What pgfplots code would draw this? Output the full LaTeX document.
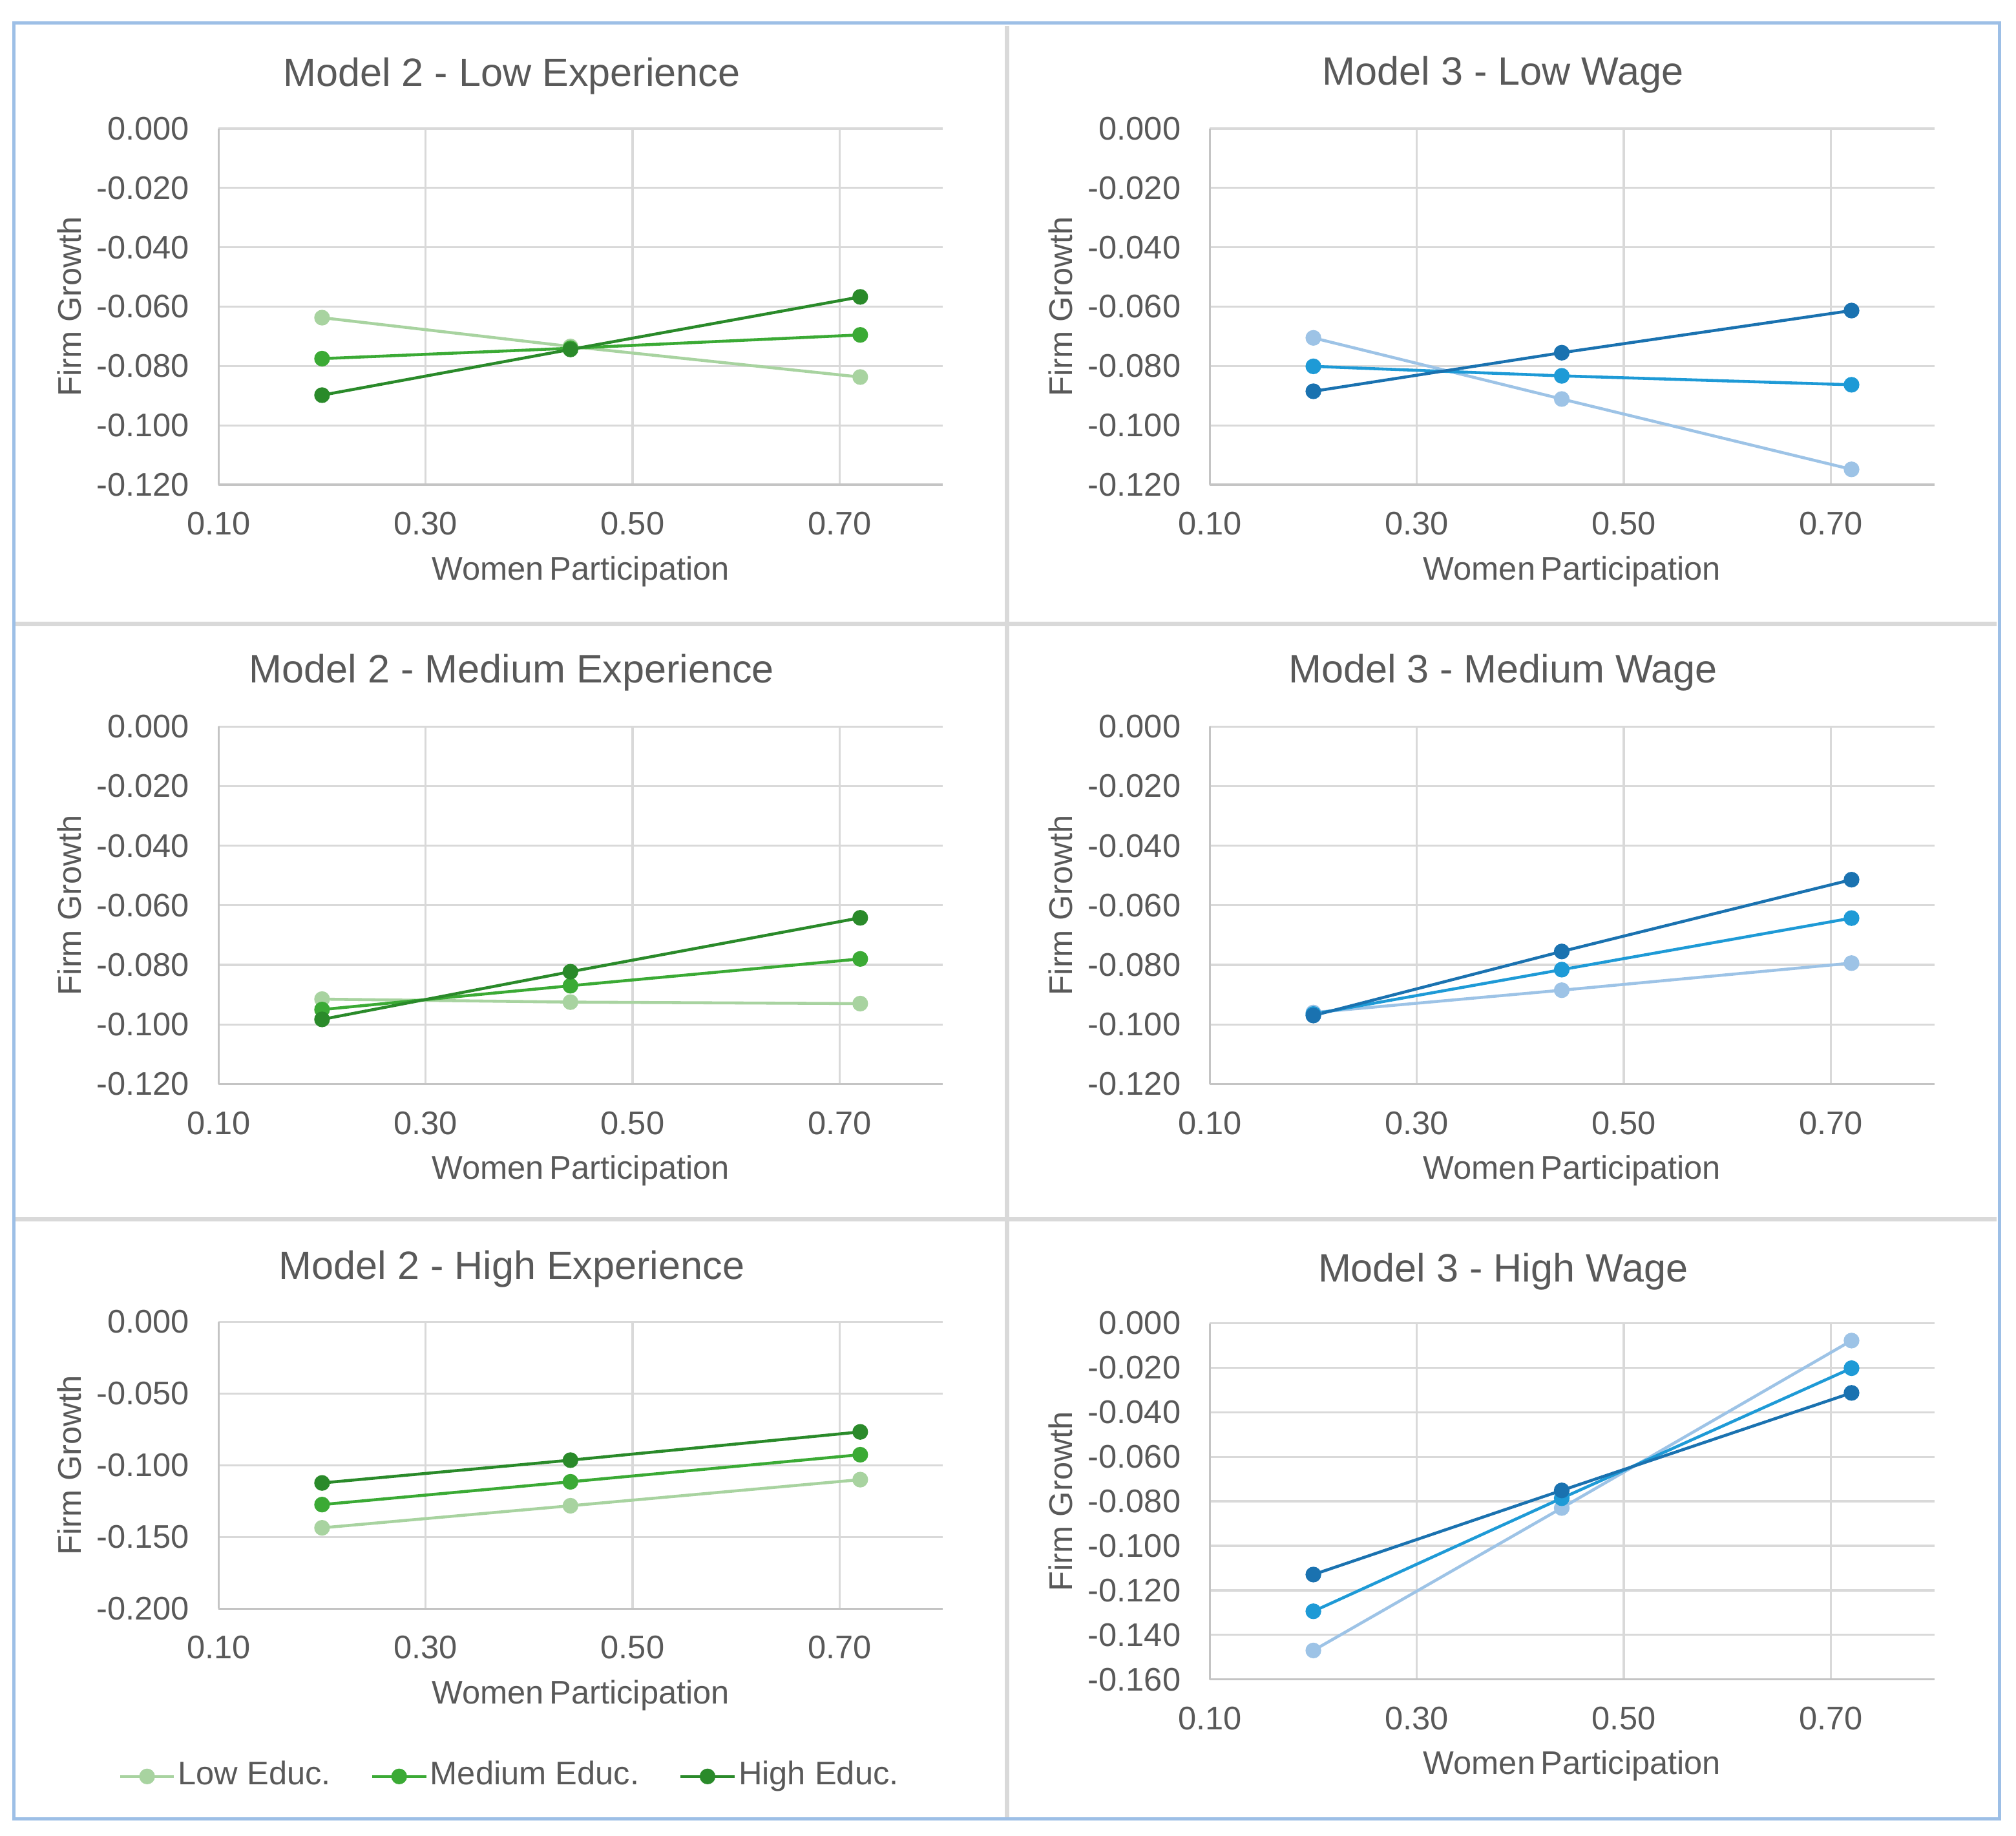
\documentclass[border=0pt]{standalone}
\usepackage{pgfplots}
\pgfplotsset{compat=1.18}
\usepackage{fontspec}
\setmainfont{Liberation Sans}

\definecolor{gL}{HTML}{A8D3A0}
\definecolor{gM}{HTML}{3BAA35}
\definecolor{gH}{HTML}{2A8A2A}
\definecolor{bL}{HTML}{9DC3E6}
\definecolor{bM}{HTML}{1E9AD6}
\definecolor{bH}{HTML}{1A72B0}
\definecolor{txt}{HTML}{595959}
\definecolor{gridc}{HTML}{D9D9D9}
\definecolor{axl}{HTML}{C4C4C4}
\definecolor{framec}{HTML}{9DBFE6}

\newdimen\ux \ux=0.0995mm
\newcommand\tfont{\fontsize{8.7}{10}\selectfont}
\newcommand\lfont{\fontsize{7.2}{8.6}\selectfont}

\pgfplotsset{
  panel/.style={
    scale only axis,
    width=563.5*\ux,
    xmin=0.1, xmax=0.8,
    xtick={0.1,0.3,0.5,0.7},
    axis lines=left,
    axis line style={-, draw=axl, line width=0.5pt},
    grid=major,
    major grid style={draw=gridc, line width=0.47pt},
    major tick length=0pt,
    /pgf/number format/assume math mode=true,
    tick label style={font=\lfont, text=txt},
    xticklabel style={anchor=base, yshift=-39*\ux,
      /pgf/number format/.cd, fixed, fixed zerofill, precision=2},
    yticklabel style={anchor=east, inner sep=0pt, xshift=-22*\ux,
      /pgf/number format/.cd, fixed, fixed zerofill, precision=3},
    xlabel={Women\,Participation},
    ylabel={Firm Growth},
    every axis x label/.style={at={(0.5,0)}, anchor=base, yshift=-74*\ux, font=\lfont, text=txt},
    every axis y label/.style={at={(0,0.5)}, xshift=-107*\ux, rotate=90, anchor=base, font=\lfont, text=txt},
  },
  ser/.style={color=#1, mark=*, mark size=1.4pt, line width=0.65pt},
}

\begin{document}
\begin{tikzpicture}
\path[use as bounding box] (0,0) rectangle (1568*\ux,-1427.6*\ux);

% frame and panel dividers
\draw[gridc, line width=1pt] (783*\ux,-20*\ux) -- (783*\ux,-1413*\ux);
\draw[gridc, line width=1pt] (12*\ux,-485*\ux) -- (1553*\ux,-485*\ux);
\draw[gridc, line width=1pt] (12*\ux,-948*\ux) -- (1553*\ux,-948*\ux);
\draw[framec, line width=0.7pt] (10.6*\ux,-18*\ux) rectangle (1555*\ux,-1414.6*\ux);

% titles
\node[anchor=base, text=txt, font=\tfont] at (398*\ux,-67*\ux) {Model 2 - Low Experience};
\node[anchor=base, text=txt, font=\tfont] at (1169*\ux,-66*\ux) {Model 3 - Low Wage};
\node[anchor=base, text=txt, font=\tfont] at (398*\ux,-531*\ux) {Model 2 - Medium Experience};
\node[anchor=base, text=txt, font=\tfont] at (1169*\ux,-531*\ux) {Model 3 - Medium Wage};
\node[anchor=base, text=txt, font=\tfont] at (398*\ux,-995*\ux) {Model 2 - High Experience};
\node[anchor=base, text=txt, font=\tfont] at (1169*\ux,-997*\ux) {Model 3 - High Wage};

% Model 2 - Low Experience
\begin{axis}[panel, at={(170*\ux,-377*\ux)}, anchor=south west, height=277*\ux,
  ymin=-0.12, ymax=0, ytick distance=0.02]
\addplot[ser=gL] coordinates {(0.20,-0.0637) (0.44,-0.0734) (0.72,-0.0837)};
\addplot[ser=gM] coordinates {(0.20,-0.0775) (0.44,-0.0740) (0.72,-0.0695)};
\addplot[ser=gH] coordinates {(0.20,-0.0898) (0.44,-0.0744) (0.72,-0.0567)};
\end{axis}

% Model 3 - Low Wage
\begin{axis}[panel, at={(941*\ux,-377*\ux)}, anchor=south west, height=277*\ux,
  ymin=-0.12, ymax=0, ytick distance=0.02]
\addplot[ser=bL] coordinates {(0.20,-0.0705) (0.44,-0.0911) (0.72,-0.1148)};
\addplot[ser=bM] coordinates {(0.20,-0.0801) (0.44,-0.0833) (0.72,-0.0863)};
\addplot[ser=bH] coordinates {(0.20,-0.0885) (0.44,-0.0755) (0.72,-0.0613)};
\end{axis}

% Model 2 - Medium Experience
\begin{axis}[panel, at={(170*\ux,-843*\ux)}, anchor=south west, height=278*\ux,
  ymin=-0.12, ymax=0, ytick distance=0.02]
\addplot[ser=gL] coordinates {(0.20,-0.0915) (0.44,-0.0925) (0.72,-0.0930)};
\addplot[ser=gM] coordinates {(0.20,-0.0950) (0.44,-0.0870) (0.72,-0.0780)};
\addplot[ser=gH] coordinates {(0.20,-0.0983) (0.44,-0.0823) (0.72,-0.0642)};
\end{axis}

% Model 3 - Medium Wage
\begin{axis}[panel, at={(941*\ux,-843*\ux)}, anchor=south west, height=278*\ux,
  ymin=-0.12, ymax=0, ytick distance=0.02]
\addplot[ser=bL] coordinates {(0.20,-0.0960) (0.44,-0.0885) (0.72,-0.0794)};
\addplot[ser=bM] coordinates {(0.20,-0.0965) (0.44,-0.0816) (0.72,-0.0643)};
\addplot[ser=bH] coordinates {(0.20,-0.0970) (0.44,-0.0755) (0.72,-0.0514)};
\end{axis}

% Model 2 - High Experience
\begin{axis}[panel, at={(170*\ux,-1251*\ux)}, anchor=south west, height=223*\ux,
  ymin=-0.2, ymax=0, ytick distance=0.05,
  legend columns=3,
  legend style={draw=none, fill=none, at={(-0.158,-0.585)}, anchor=west,
    font=\lfont, text=txt, nodes={inner sep=0pt},
    /tikz/every even column/.append style={column sep=31*\ux},
    /tikz/every odd column/.append style={column sep=2*\ux}},
  legend cell align=left,
  legend image code/.code={\draw[#1, mark repeat=2, mark phase=2] plot coordinates {(0,0) (21*\ux,0) (42*\ux,0)};}]
\addplot[ser=gL] coordinates {(0.20,-0.1436) (0.44,-0.1282) (0.72,-0.1100)};
\addlegendentry{Low Educ.}
\addplot[ser=gM] coordinates {(0.20,-0.1274) (0.44,-0.1115) (0.72,-0.0926)};
\addlegendentry{Medium Educ.}
\addplot[ser=gH] coordinates {(0.20,-0.1123) (0.44,-0.0964) (0.72,-0.0767)};
\addlegendentry{High Educ.}
\end{axis}

% Model 3 - High Wage
\begin{axis}[panel, at={(941*\ux,-1306*\ux)}, anchor=south west, height=277*\ux,
  ymin=-0.16, ymax=0, ytick distance=0.02]
\addplot[ser=bL] coordinates {(0.20,-0.1470) (0.44,-0.0830) (0.72,-0.0078)};
\addplot[ser=bM] coordinates {(0.20,-0.1294) (0.44,-0.0786) (0.72,-0.0202)};
\addplot[ser=bH] coordinates {(0.20,-0.1129) (0.44,-0.0751) (0.72,-0.0313)};
\end{axis}
\end{tikzpicture}
\end{document}
